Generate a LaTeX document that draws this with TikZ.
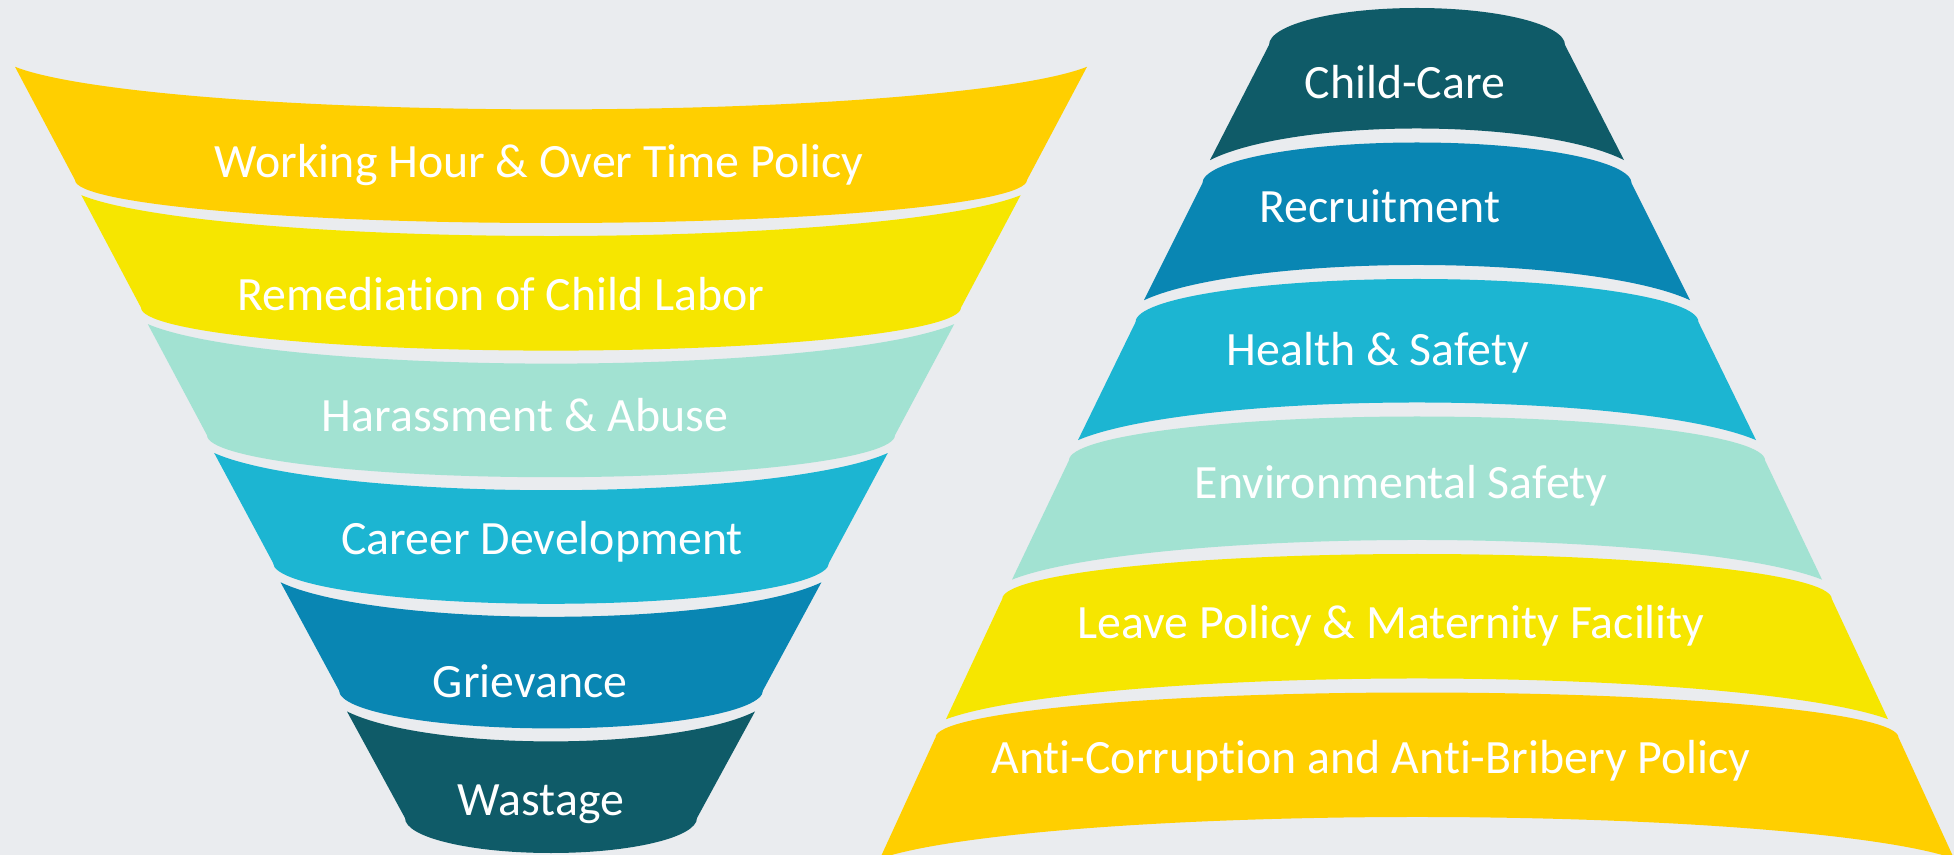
\documentclass[tikz,border=0pt]{standalone}
\usepackage{fontspec}
\setmainfont{Carlito}[Ligatures=NoCommon]
\definecolor{cbg}{HTML}{EAECEF}
\definecolor{cgold}{HTML}{FFCF00}
\definecolor{cyellow}{HTML}{F6E600}
\definecolor{cmint}{HTML}{A2E2D2}
\definecolor{ccyan}{HTML}{1CB5D2}
\definecolor{cblue}{HTML}{0986B3}
\definecolor{cteal}{HTML}{0F5B68}
\begin{document}
\begin{tikzpicture}[x=0.01cm, y=0.01cm,
    lbl/.style = {text=white, font=\fontsize{13.6}{16}\selectfont, anchor=base, inner sep=0pt}]
  \useasboundingbox (0,0) rectangle (1954,-855);
  \fill[cbg] (0,0) rectangle (1954,-855);
  % funnel on the left
  \foreach \i/\col/\lbot/\ltop in {0/cgold/43/57, 1/cyellow/43/56, 2/cmint/42/56, 3/ccyan/41/55, 4/cblue/38/54, 5/cteal/35/51} {
    \pgfmathsetmacro\wtop{536-66.4*\i}
    \pgfmathsetmacro\wbot{476-66*\i}
    \pgfmathsetmacro\ybot{-(180+127.6*\i)}
    \pgfmathsetmacro\yprev{\ybot+127.6}
    \pgfmathsetmacro\atop{554-66*\i}
    \pgfmathsetmacro\ang{acos(\wtop/\atop)}
    \pgfmathsetmacro\ytop{\yprev-\ltop*sin(\ang)}
    \fill[\col] (551-\wtop,\ytop) -- (551-\wbot,\ybot)
      arc[start angle=180, end angle=360, x radius=\wbot, y radius=\lbot]
      -- (551+\wtop,\ytop)
      arc[start angle=-\ang, end angle=-180+\ang, x radius=\atop, y radius=\ltop] -- cycle;
  }
  % pyramid on the right
  \foreach \j/\col/\rtop/\rnext in {0/cteal/37/41, 1/cblue/41/43, 2/ccyan/43/44, 3/cmint/44/45, 4/cyellow/45/45, 5/cgold/45/45} {
    \pgfmathsetmacro\wtop{148+66.7*\j}
    \pgfmathsetmacro\wbot{207+66*\j}
    \pgfmathsetmacro\ytop{-(45+138.5*\j)}
    \pgfmathsetmacro\ynext{\ytop-138.5}
    \pgfmathsetmacro\anext{\wtop+80.7}
    \pgfmathsetmacro\bnext{\rnext+14}
    \pgfmathsetmacro\ang{acos(\wbot/\anext)}
    \pgfmathsetmacro\ybot{\ynext+\bnext*sin(\ang)}
    \fill[\col] (1417-\wbot,\ybot) -- (1417-\wtop,\ytop)
      arc[start angle=180, end angle=0, x radius=\wtop, y radius=\rtop]
      -- (1417+\wbot,\ybot)
      arc[start angle=\ang, end angle=180-\ang, x radius=\anext, y radius=\bnext] -- cycle;
  }
  % labels
  \node[lbl] (hours) at (539,-178) {Working Hour \& Over Time Policy};
  \node[lbl] (labor) at (501,-311) {Remediation of Child Labor};
  \node[lbl] (abuse) at (525,-432) {Harassment \& Abuse};
  \node[lbl] (career) at (542,-555) {Career Development};
  \node[lbl] (grievance) at (530,-697) {Grievance};
  \node[lbl] (wastage) at (541,-815) {Wastage};
  \node[lbl] (care) at (1405,-99) {Child-Care};
  \node[lbl] (recruit) at (1380,-223) {Recruitment};
  \node[lbl] (health) at (1378,-366) {Health \& Safety};
  \node[lbl] (environ) at (1401,-499) {Environmental Safety};
  \node[lbl] (leave) at (1391,-638) {Leave Policy \& Maternity Facility};
  \node[lbl] (bribery) at (1371,-773) {Anti-Corruption and Anti-Bribery Policy};
\end{tikzpicture}
\end{document}
